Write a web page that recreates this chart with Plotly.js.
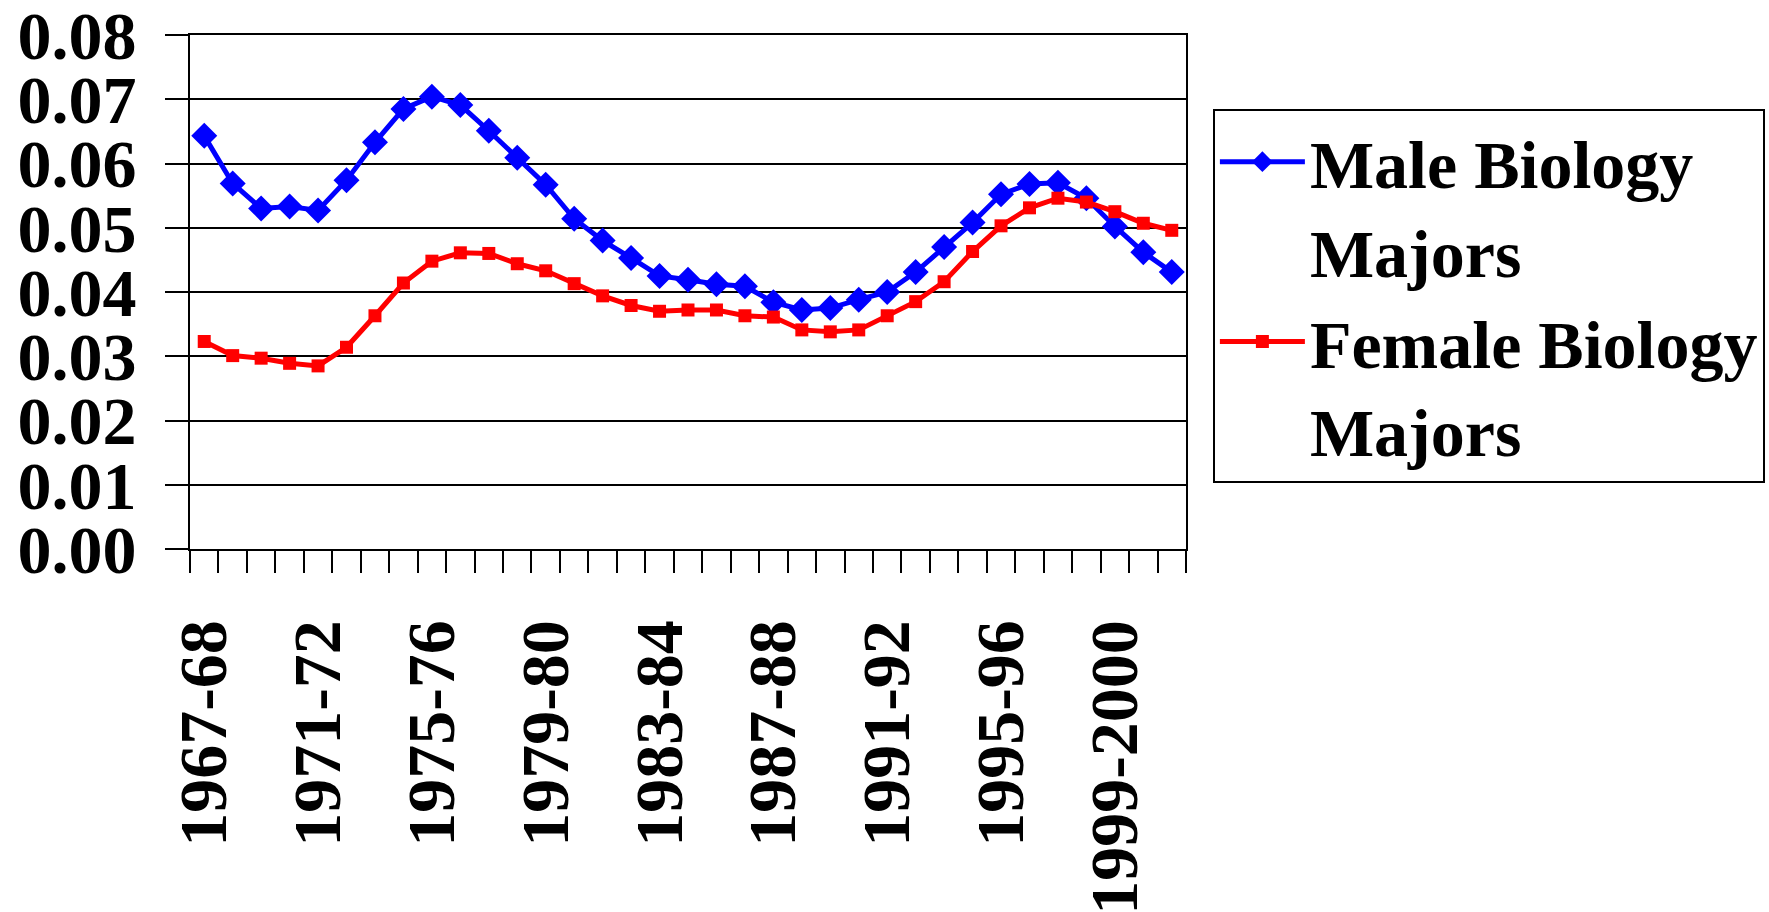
<!DOCTYPE html>
<html>
<head>
<meta charset="utf-8">
<script src="https://cdn.plot.ly/plotly-3.0.1.min.js"></script>
<style>html,body{margin:0;padding:0;background:#fff;}#chart{width:1769px;height:912px;}</style>
</head>
<body>
<div id="chart"></div>
<script>
const years = ['1967-68','1968-69','1969-70','1970-71','1971-72','1972-73','1973-74','1974-75','1975-76','1976-77',
  '1977-78','1978-79','1979-80','1980-81','1981-82','1982-83','1983-84','1984-85','1985-86','1986-87',
  '1987-88','1988-89','1989-90','1990-91','1991-92','1992-93','1993-94','1994-95','1995-96','1996-97',
  '1997-98','1998-99','1999-2000','2000-01','2001-02'];
const labelledYears = ['1967-68','1971-72','1975-76','1979-80','1983-84','1987-88','1991-92','1995-96','1999-2000'];
const maleBiology = [0.0643,0.0569,0.0530,0.0533,0.0527,0.0574,0.0633,0.0685,0.0704,0.0691,
  0.0651,0.0609,0.0567,0.0514,0.0480,0.0453,0.0425,0.0419,0.0412,0.0409,
  0.0384,0.0372,0.0375,0.0388,0.0400,0.0431,0.0470,0.0508,0.0552,0.0568,
  0.0570,0.0546,0.0502,0.0462,0.0431];
const femaleBiology = [0.0323,0.0301,0.0297,0.0289,0.0285,0.0314,0.0363,0.0414,0.0448,0.0461,
  0.0460,0.0444,0.0433,0.0413,0.0394,0.0379,0.0370,0.0372,0.0372,0.0363,
  0.0361,0.0341,0.0338,0.0341,0.0363,0.0385,0.0416,0.0463,0.0503,0.0531,
  0.0546,0.0540,0.0525,0.0507,0.0496];
const seriesNames = ['Male Biology<br>Majors','Female Biology<br>Majors'];

const tickText = years.map(y => labelledYears.includes(y) ? y : '');
const fontFam = '"Liberation Serif", "Times New Roman", serif';

const traces = [
  {x: years, y: maleBiology, name: seriesNames[0], type: 'scatter', mode: 'lines+markers',
   line: {color: '#0000FF', width: 5}, marker: {symbol: 'diamond', size: 20, color: '#0000FF'}},
  {x: years, y: femaleBiology, name: seriesNames[1], type: 'scatter', mode: 'lines+markers',
   line: {color: '#FF0000', width: 5}, marker: {symbol: 'square', size: 13, color: '#FF0000'}}
];

const layout = {
  width: 1769, height: 912,
  margin: {l: 190, r: 583, t: 34.5, b: 363, pad: 0, autoexpand: false},
  paper_bgcolor: '#fff', plot_bgcolor: '#fff',
  font: {family: fontFam, size: 68, color: '#000', weight: 700},
  showlegend: true,
  xaxis: {
    type: 'category', tickmode: 'array', tickvals: years, ticktext: tickText,
    tickson: 'boundaries', ticks: 'outside', ticklen: 22, tickwidth: 2, tickcolor: '#000',
    tickangle: -90, ticklabelstandoff: 42, ticklabeloverflow: 'allow',
    showgrid: false, showline: true, linecolor: '#000', linewidth: 2, mirror: true,
    range: [-0.5, 34.5], zeroline: false,
    tickfont: {family: fontFam, size: 68, color: '#000', weight: 700}
  },
  yaxis: {
    range: [0, 0.08], dtick: 0.01, tick0: 0, tickformat: '.2f',
    ticks: 'outside', ticklen: 23, tickwidth: 2, tickcolor: '#000', ticklabelstandoff: 15,
    ticklabeloverflow: 'allow',
    showgrid: true, gridcolor: '#000', gridwidth: 2,
    showline: true, linecolor: '#000', linewidth: 2, mirror: true, zeroline: false,
    tickfont: {family: fontFam, size: 68, color: '#000', weight: 700}
  },
  legend: {
    x: 1.027, y: 0.856, xanchor: 'left', yanchor: 'top', xref: 'paper', yref: 'paper',
    bordercolor: '#000', borderwidth: 2, bgcolor: '#fff', valign: 'top',
    itemwidth: 85, tracegroupgap: 0,
    font: {family: fontFam, size: 68, color: '#000', weight: 700}
  }
};

Plotly.newPlot('chart', traces, layout, {displayModeBar: false, staticPlot: true});
</script>
</body>
</html>
